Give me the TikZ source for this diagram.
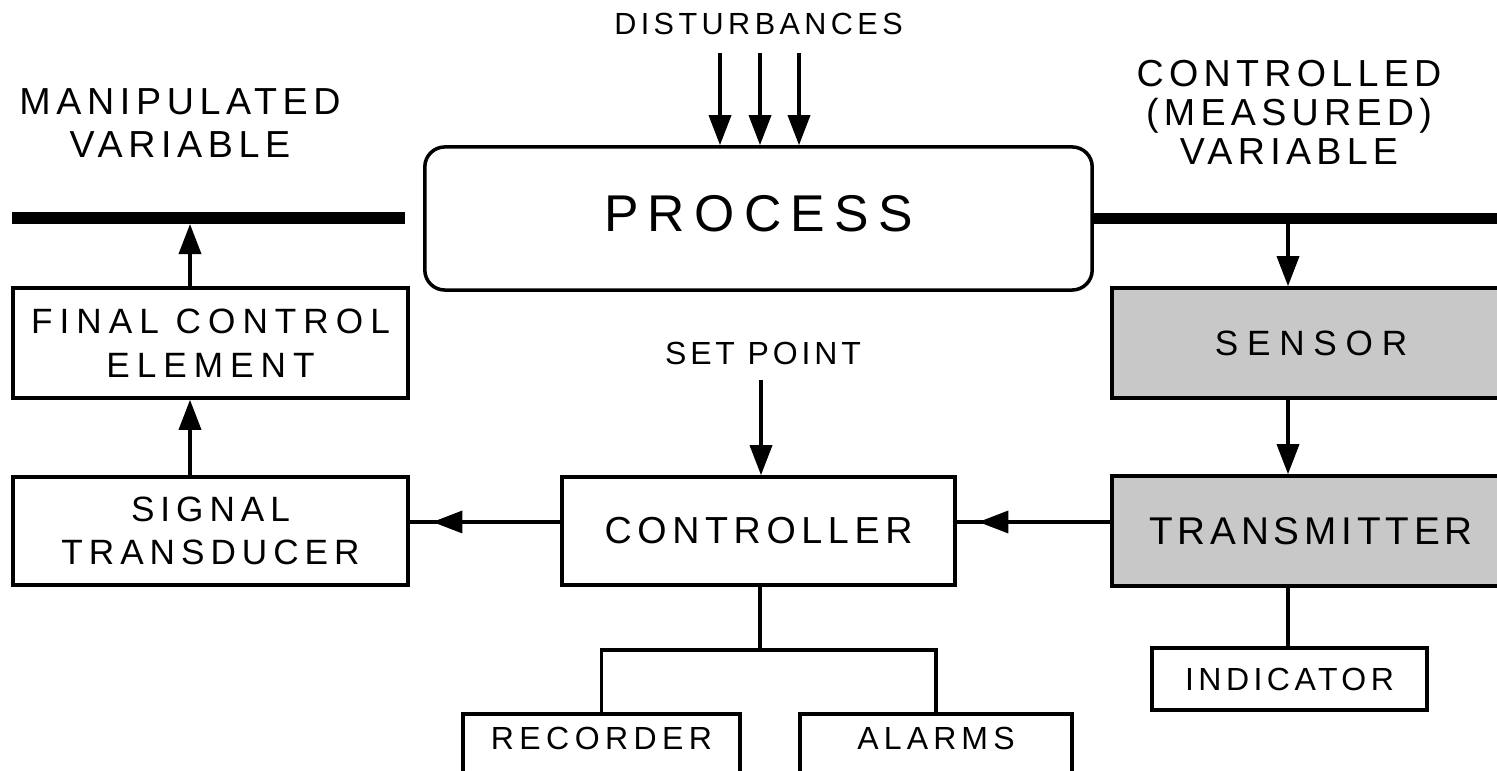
\documentclass[tikz,border=0pt]{standalone}
\usepackage{fontspec}
\setmainfont{Liberation Sans}
\usetikzlibrary{arrows.meta,decorations.markings}
\definecolor{boxgray}{RGB}{200,200,200}
\newcommand\setlbl[3]{\fontsize{#1}{#2}\selectfont\addfontfeatures{LetterSpace=#3}}
\begin{document}
\begin{tikzpicture}[x=0.01cm,y=-0.01cm,
  box/.style={draw, line width=1pt, align=center, inner sep=0pt},
  gbox/.style={box, fill=boxgray},
  conn/.style={line width=1pt},
  arr/.style={conn, -{Triangle[length=0.3cm,width=0.22cm]}},
  thickbar/.style={line width=3.4pt},
  midarr/.style={conn, postaction={decorate, decoration={markings, mark=at position #1 with {\arrow{Triangle[length=0.3cm,width=0.22cm]}}}}}
]
\useasboundingbox (0,0) rectangle (1497,771);
\clip (0,0) rectangle (1497,771);
\fill[white] (0,0) rectangle (1497,771);

% texts
\node[font=\setlbl{8.7}{10}{14.5}, anchor=base, inner sep=0pt] (dist) at (758.5,35) {DISTURBANCES};
\node[font=\setlbl{10.7}{12.2}{15}, align=center, inner sep=0pt] (mv) at (180,123) {MANIPULATED\\VARIABLE};
\node[font=\setlbl{10.7}{11.1}{14}, align=center, inner sep=0pt] (cv) at (1289,112.5) {CONTROLLED\\(MEASURED)\\VARIABLE};
\node[font=\setlbl{9.1}{11}{12}, anchor=base, inner sep=0pt] (spt) at (763,365) {SET POINT};

% boxes
\node[box, rounded corners=0.2cm, minimum width=6.67cm, minimum height=1.43cm, text height=0.37cm, text depth=0.10cm, font=\setlbl{14.7}{16}{18}] (proc) at (758.5,218.5) {PROCESS};
\node[box, minimum width=3.95cm, minimum height=1.10cm, font=\setlbl{10}{12.5}{20}] (fce) at (210.5,343) {FINAL CONTROL\\ELEMENT};
\node[box, minimum width=3.95cm, minimum height=1.08cm, font=\setlbl{10}{12.2}{17}] (st) at (210.5,531) {SIGNAL\\TRANSDUCER};
\node[box, minimum width=3.93cm, minimum height=1.08cm, font=\setlbl{10.7}{12}{15}] (ctrl) at (758.5,531) {CONTROLLER};
\node[gbox, minimum width=3.98cm, minimum height=1.10cm, font=\setlbl{10}{12}{25}] (sens) at (1311,343) {SENSOR};
\node[gbox, minimum width=3.98cm, minimum height=1.10cm, font=\setlbl{11}{12}{12.5}] (trans) at (1311,531) {TRANSMITTER};
\node[box, minimum width=2.75cm, minimum height=0.62cm, font=\setlbl{9.1}{11}{14}] (ind) at (1289.5,679) {INDICATOR};
\node[box, anchor=north, minimum width=2.77cm, text height=0.36cm, text depth=0.52cm, font=\setlbl{9.1}{11}{17}] (rec) at (601.5,712) {RECORDER};
\node[box, anchor=north, minimum width=2.72cm, text height=0.36cm, text depth=0.52cm, font=\setlbl{9.1}{11}{16}] (alm) at (936,712) {ALARMS};

% thick variable lines
\coordinate (mvl) at (12,218);
\coordinate (mvr) at (405,218);
\coordinate (cvr) at (1510,218);
\draw[thickbar] (mvl) -- (mvr);
\draw[thickbar] (proc.east) -- (cvr |- proc.east);

% disturbances
\coordinate (d1) at (720,53);
\coordinate (d2) at (760,53);
\coordinate (d3) at (799,53);
\foreach \d in {d1,d2,d3} \draw[arr] (\d) -- (\d |- proc.north);

% left column
\coordinate (a1) at (190,224);
\draw[arr] (fce.north -| a1) -- (a1);
\draw[arr] (st.north -| a1) -- (fce.south -| a1);

% set point
\coordinate (sp) at (761,380);
\draw[arr] (sp) -- (sp |- ctrl.north);

% right column
\coordinate (s0) at (1288,224);
\draw[arr] (s0) -- (s0 |- sens.north);
\draw[arr] (sens.south -| s0) -- (trans.north -| s0);
\draw[conn] (trans.south -| s0) -- (ind.north -| s0);

% horizontal signals
\coordinate (hy) at (0,522);
\draw[midarr=0.86] (trans.west |- hy) -- (ctrl.east |- hy);
\draw[midarr=0.85] (ctrl.west |- hy) -- (st.east |- hy);

% controller outputs
\coordinate (bj) at (760,650);
\draw[conn] (ctrl.south -| bj) -- (bj);
\draw[conn] (rec.north) |- (bj) -| (alm.north);
\end{tikzpicture}
\end{document}
